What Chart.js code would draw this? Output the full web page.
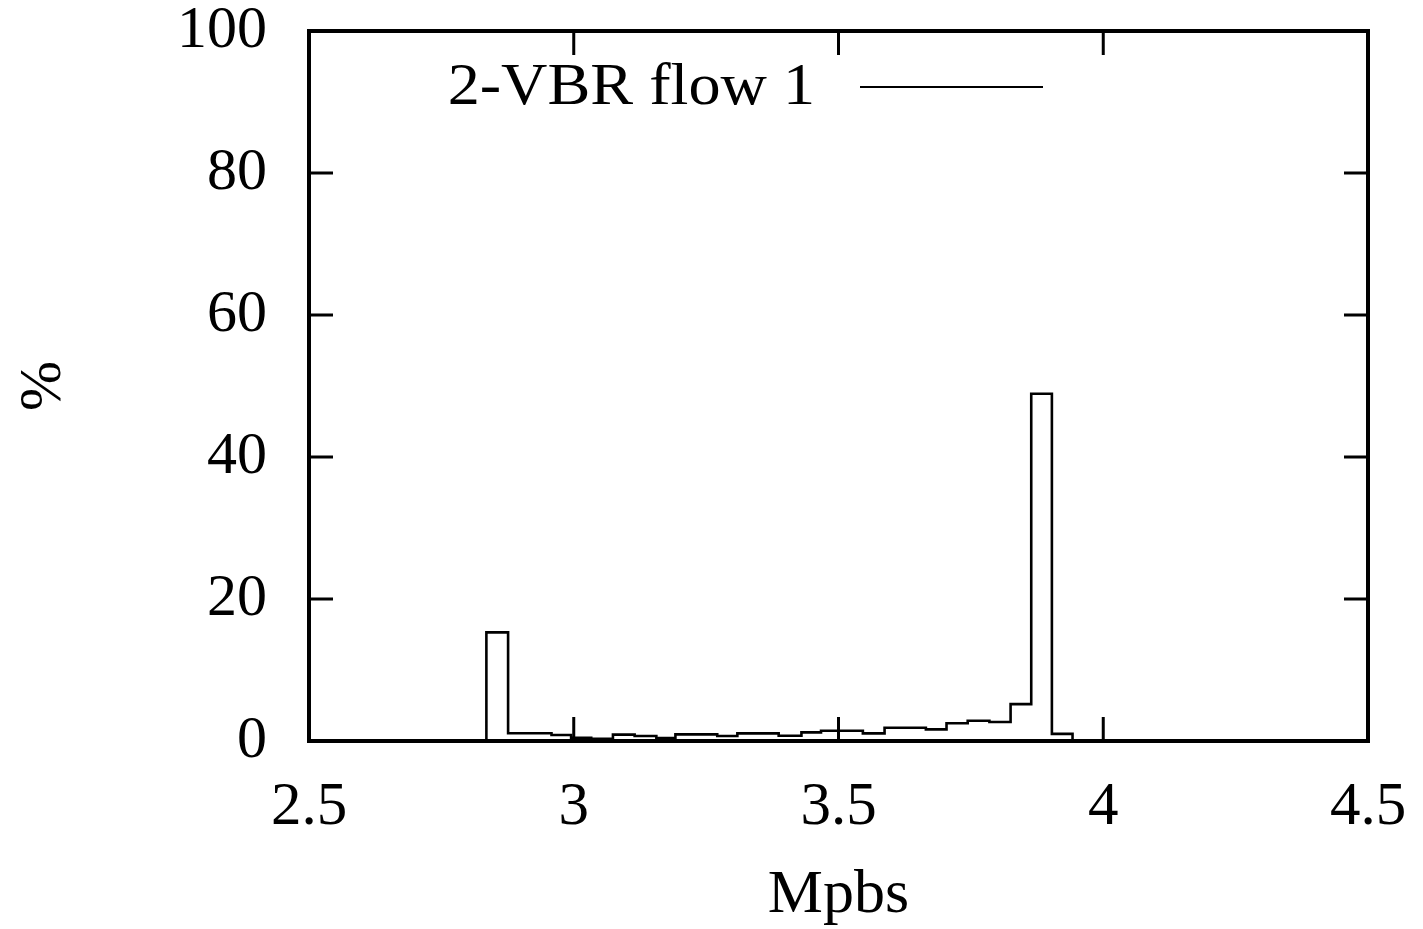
<!DOCTYPE html>
<html>
<head>
<meta charset="utf-8">
<script src="https://cdn.jsdelivr.net/npm/chart.js@4.4.1/dist/chart.umd.min.js"></script>
<style>
  html, body { margin: 0; padding: 0; background: #fff; }
  #wrap { width: 1423px; height: 929px; }
</style>
</head>
<body>
<div id="wrap"><canvas id="hist" width="1423" height="929"></canvas></div>
<script>
const SERIES_LABEL = '2-VBR flow 1';
const X_TITLE = 'Mpbs';
const Y_TITLE = '%';
const X_TICKS = [2.5, 3, 3.5, 4, 4.5];
const Y_TICKS = [0, 20, 40, 60, 80, 100];

// bin edges (Mbps) and the share of samples in each bin (%)
const binEdges = [
  2.835, 2.876, 2.917, 2.958, 2.995, 3.033, 3.074, 3.115, 3.156, 3.192,
  3.230, 3.271, 3.309, 3.347, 3.387, 3.430, 3.467, 3.505, 3.546, 3.587,
  3.625, 3.665, 3.704, 3.744, 3.785, 3.825, 3.864, 3.903, 3.942,
];
const binPercent = [
  15.3, 1.1, 1.1, 0.85, 0.46, 0.3, 0.9, 0.7, 0.4, 0.94,
  0.94, 0.7, 1.08, 1.08, 0.75, 1.22, 1.45, 1.45, 1.08, 1.87,
  1.87, 1.64, 2.5, 2.85, 2.68, 5.2, 48.9, 1.0,
];

const FONT = 'Liberation Serif, Times New Roman, DejaVu Serif, serif';

// step outline: start on the baseline, one point per bin, close on the baseline
const points = [{ x: binEdges[0], y: 0 }];
binPercent.forEach((v, i) => points.push({ x: binEdges[i], y: v }));
points.push({ x: binEdges[binEdges.length - 1], y: 0 });

const frame = {
  id: 'frame',
  afterDraw(chart) {
    const { ctx, chartArea: a, scales } = chart;
    const tick = 24;
    ctx.save();
    ctx.strokeStyle = '#000';
    ctx.lineWidth = 3;
    ctx.beginPath();
    X_TICKS.forEach((t) => {
      const px = scales.x.getPixelForValue(t);
      ctx.moveTo(px, a.bottom);
      ctx.lineTo(px, a.bottom - tick);
      ctx.moveTo(px, a.top);
      ctx.lineTo(px, a.top + tick);
    });
    Y_TICKS.forEach((t) => {
      const py = scales.y.getPixelForValue(t);
      ctx.moveTo(a.left, py);
      ctx.lineTo(a.left + tick, py);
      ctx.moveTo(a.right, py);
      ctx.lineTo(a.right - tick, py);
    });
    ctx.stroke();
    ctx.lineWidth = 4;
    ctx.strokeRect(a.left, a.top, a.right - a.left, a.bottom - a.top);

    // key: text then line sample, gnuplot style (text a bit wider, like the scan)
    ctx.save();
    ctx.translate(815, 88);
    ctx.scale(1.07, 1);
    ctx.font = `60px ${FONT}`;
    ctx.fillStyle = '#000';
    ctx.textAlign = 'right';
    ctx.textBaseline = 'middle';
    ctx.fillText(SERIES_LABEL, 0, 0);
    ctx.restore();
    ctx.lineWidth = 2;
    ctx.beginPath();
    ctx.moveTo(860, 87);
    ctx.lineTo(1043, 87);
    ctx.stroke();
    ctx.restore();
  },
};

new Chart(document.getElementById('hist'), {
  type: 'line',
  data: {
    datasets: [
      {
        label: SERIES_LABEL,
        data: points,
        stepped: true,
        borderColor: '#000',
        borderWidth: 2.6,
        pointRadius: 0,
        fill: false,
      },
    ],
  },
  options: {
    responsive: false,
    animation: false,
    layout: { padding: { left: 0, right: 55, top: 31, bottom: 0 } },
    plugins: { legend: { display: false }, tooltip: { enabled: false } },
    scales: {
      x: {
        type: 'linear',
        min: 2.5,
        max: 4.5,
        afterBuildTicks: (s) => { s.ticks = X_TICKS.map((v) => ({ value: v })); },
        afterFit: (s) => {
          s.height = 188;
          s.paddingLeft = 0;
          s.paddingRight = 0;
        },
        grid: { display: false, drawTicks: false },
        border: { display: false },
        ticks: {
          color: '#000',
          font: { family: FONT, size: 61 },
          padding: 30,
          maxRotation: 0,
          autoSkip: false,
          callback: (v) => String(v),
        },
        title: {
          display: true,
          text: X_TITLE,
          color: '#000',
          font: { family: FONT, size: 62, lineHeight: 1 },
          padding: { top: 0, bottom: 2 },
        },
      },
      y: {
        min: 0,
        max: 100,
        afterBuildTicks: (s) => { s.ticks = Y_TICKS.map((v) => ({ value: v })); },
        afterFit: (s) => {
          s.width = 309;
          s.paddingTop = 0;
          s.paddingBottom = 0;
        },
        grid: { display: false, drawTicks: false },
        border: { display: false },
        ticks: {
          color: '#000',
          font: { family: FONT, size: 60 },
          padding: 42,
        },
        title: {
          display: true,
          text: Y_TITLE,
          color: '#000',
          font: { family: FONT, size: 60, lineHeight: 1 },
          padding: { top: 14, bottom: 0 },
        },
      },
    },
  },
  plugins: [frame],
});
</script>
</body>
</html>
